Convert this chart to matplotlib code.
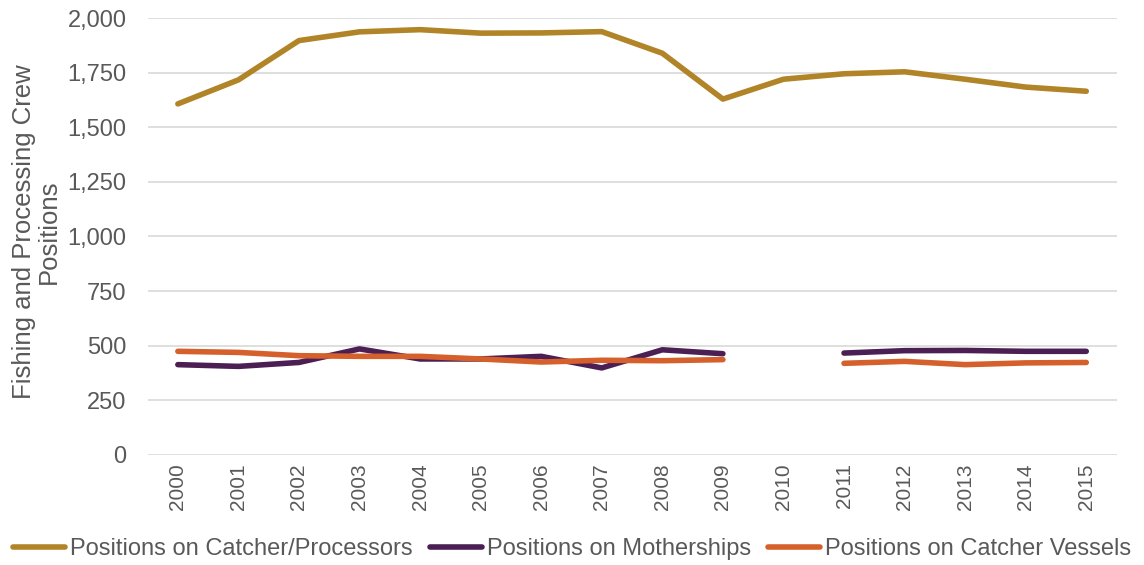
import numpy as np
import matplotlib.pyplot as plt

years = [str(y) for y in range(2000, 2016)]
catcher_processors = [1607, 1717, 1897, 1937, 1947, 1931, 1932, 1938, 1839, 1629,
                      1720, 1745, 1754, 1720, 1684, 1665]
motherships = [413, 405, 423, 485, 439, 439, 451, 398, 481, 463,
               np.nan, 466, 477, 478, 474, 474]
catcher_vessels = [474, 469, 454, 451, 451, 439, 425, 433, 431, 436,
                   np.nan, 419, 428, 413, 421, 423]

plt.rcParams['font.family'] = ['Liberation Sans', 'DejaVu Sans']

fig = plt.figure(figsize=(11.44, 5.65), dpi=100)
ax = fig.add_axes([0.129, 0.195, 0.847, 0.773])

x = np.arange(len(years))
lw = 4.0
ax.plot(x, catcher_processors, color='#B08427', lw=lw, solid_capstyle='round',
        label='Positions on Catcher/Processors')
ax.plot(x, motherships, color='#4B1E54', lw=lw, solid_capstyle='round',
        label='Positions on Motherships')
ax.plot(x, catcher_vessels, color='#D5602B', lw=lw, solid_capstyle='round',
        label='Positions on Catcher Vessels')

ax.set_xlim(-0.5, len(years) - 0.5)
ax.set_ylim(0, 2000)
ax.set_yticks(np.arange(0, 2001, 250))
ax.set_yticklabels([f'{v:,}' for v in range(0, 2001, 250)])
ax.set_xticks(x)
ax.set_xticklabels(years, rotation=90)
ax.tick_params(axis='y', length=0, labelsize=17, labelcolor='#595959', pad=15)
ax.tick_params(axis='x', length=0, labelsize=15, labelcolor='#595959', pad=6)
ax.grid(axis='y', color='#D9D9D9', lw=1.2)
ax.set_axisbelow(True)
for s in ax.spines.values():
    s.set_visible(False)

ax.set_ylabel('Fishing and Processing Crew\nPositions', fontsize=18.5, color='#595959',
              linespacing=1.05)
ax.yaxis.set_label_coords(-0.089, 0.51)

fig.legend(loc='center', bbox_to_anchor=(0.5, 0.028), ncol=3, frameon=False,
           fontsize=17, labelcolor='#595959', handlelength=2.2, handletextpad=0.2,
           columnspacing=0.75, borderpad=0, borderaxespad=0)

fig.savefig('out.png', dpi=100)
